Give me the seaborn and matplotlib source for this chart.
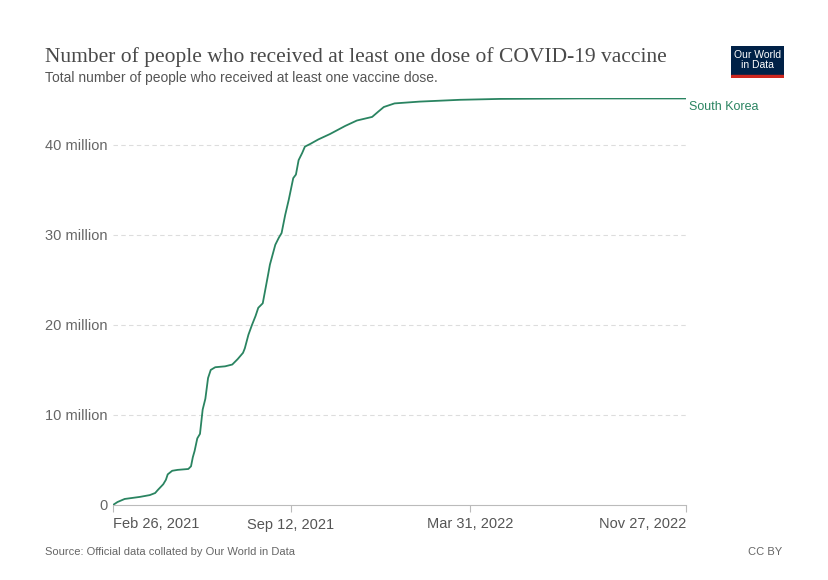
import pandas as pd
import matplotlib.pyplot as plt
from matplotlib.patches import Rectangle
import seaborn as sns

# Data (people with at least one dose, millions)
dates = [
    "2021-02-26", "2021-03-03", "2021-03-11", "2021-03-28", "2021-04-08", "2021-04-14",
    "2021-04-17", "2021-04-23", "2021-04-26", "2021-04-28", "2021-05-03", "2021-05-09",
    "2021-05-21", "2021-05-24", "2021-05-26", "2021-05-28", "2021-05-31", "2021-06-03",
    "2021-06-06", "2021-06-09", "2021-06-12", "2021-06-15", "2021-06-20", "2021-07-01",
    "2021-07-09", "2021-07-15", "2021-07-21", "2021-07-23", "2021-07-27", "2021-07-31",
    "2021-08-04", "2021-08-07", "2021-08-12", "2021-08-18", "2021-08-20", "2021-08-26",
    "2021-08-30", "2021-09-02", "2021-09-06", "2021-09-10", "2021-09-15", "2021-09-18",
    "2021-09-21", "2021-09-25", "2021-09-28", "2021-10-04", "2021-10-13", "2021-10-26",
    "2021-11-12", "2021-11-25", "2021-12-12", "2021-12-19", "2021-12-25", "2022-01-06",
    "2022-02-03", "2022-03-20", "2022-05-04", "2022-08-01", "2022-11-27",
]
people_millions = [
    0.0, 0.33, 0.67, 0.9, 1.1, 1.33,
    1.67, 2.3, 2.8, 3.4, 3.8, 3.9,
    4.0, 4.3, 5.3, 6.0, 7.4, 7.9,
    10.6, 11.8, 14.1, 15.0, 15.3, 15.4,
    15.6, 16.2, 16.9, 17.4, 18.9, 20.0,
    21.0, 21.9, 22.4, 25.6, 26.7, 28.9,
    29.7, 30.2, 32.2, 33.9, 36.3, 36.7,
    38.3, 39.1, 39.8, 40.1, 40.6, 41.2,
    42.1, 42.7, 43.1, 43.7, 44.2, 44.6,
    44.8, 45.0, 45.1, 45.15, 45.15,
]
tick_dates = ["2021-02-26", "2021-09-12", "2022-03-31", "2022-11-27"]
tick_labels = ["Feb 26, 2021", "Sep 12, 2021", "Mar 31, 2022", "Nov 27, 2022"]
y_ticks = [0, 10, 20, 30, 40]
y_labels = ["0", "10 million", "20 million", "30 million", "40 million"]

df = pd.DataFrame({"date": pd.to_datetime(dates), "people": people_millions})

line_color = "#2a8461"
grey = "#666666"

sns.set_theme(style="white")
plt.rcParams["font.family"] = ["Liberation Sans", "DejaVu Sans"]
fig = plt.figure(figsize=(8.29, 5.8), dpi=100)
ax = fig.add_axes([113 / 829, 1 - 505 / 580, 573 / 829, 407 / 580])

sns.lineplot(data=df, x="date", y="people", ax=ax, color=line_color, linewidth=1.3)

ax.set_xlim(pd.Timestamp("2021-02-26"), pd.Timestamp("2022-11-27"))
ax.set_ylim(0, 45.2)
ax.set_xticks(pd.to_datetime(tick_dates))
ax.set_xticklabels(tick_labels, fontsize=10.5, color="#555555")
xl = ax.get_xticklabels()
xl[0].set_ha("left")
xl[-1].set_ha("right")
ax.set_yticks(y_ticks)
ax.set_yticklabels(y_labels, fontsize=10.5, color=grey)
ax.set_xlabel("")
ax.set_ylabel("")

for y in y_ticks[1:]:
    ax.axhline(y, color="#dddddd", linestyle=(0, (4, 3)), linewidth=0.8, zorder=0)

for s in ["top", "right", "left"]:
    ax.spines[s].set_visible(False)
ax.spines["bottom"].set_color("#bbbbbb")
ax.spines["bottom"].set_linewidth(0.8)
ax.tick_params(axis="x", length=5, width=0.8, color="#bbbbbb", pad=4, direction="out", bottom=True)
ax.tick_params(axis="y", length=0, pad=4)

# Series label at the end of the line
ax.text(1.006, (45.15 - 0.9) / 45.2, "South Korea", transform=ax.transAxes,
        color=line_color, fontsize=9, va="center", ha="left")

# Titles
fig.text(45 / 829, 1 - 57 / 580, "Number of people who received at least one dose of COVID-19 vaccine",
         fontsize=15.5, family="Liberation Serif", color="#4a4a4a", va="center")
fig.text(45 / 829, 1 - 78 / 580, "Total number of people who received at least one vaccine dose.",
         fontsize=10, color="#555555", va="center")
fig.text(45 / 829, 1 - 552 / 580, "Source: Official data collated by Our World in Data",
         fontsize=8, color="#666666", va="center")
fig.text(782 / 829, 1 - 552 / 580, "CC BY", fontsize=8, color="#666666", va="center", ha="right")

# Logo
logo = fig.add_axes([731 / 829, 1 - 78 / 580, 53 / 829, 32 / 580])
logo.set_xlim(0, 1)
logo.set_ylim(0, 1)
logo.axis("off")
logo.add_patch(Rectangle((0, 0.1), 1, 0.9, color="#002147"))
logo.add_patch(Rectangle((0, 0), 1, 0.1, color="#ce261e"))
logo.text(0.5, 0.56, "Our World\nin Data", color="white", fontsize=7.5, ha="center", va="center",
          linespacing=1.0)

plt.savefig("out.png", dpi=100)
